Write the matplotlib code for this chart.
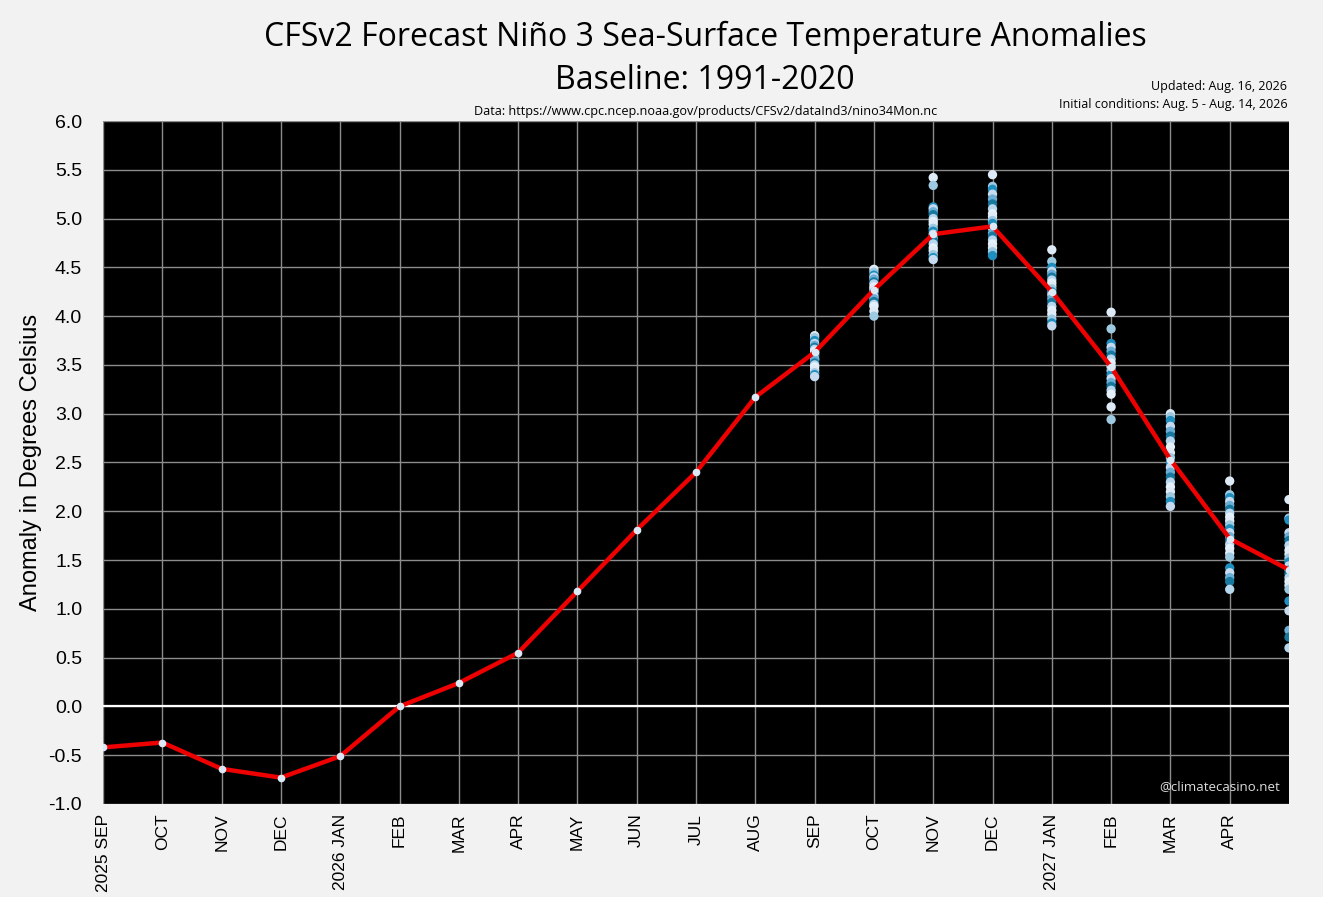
import matplotlib
matplotlib.use("Agg")
import matplotlib.pyplot as plt
import numpy as np

plt.rcParams['axes.unicode_minus'] = False

# months on the x axis (index 0 = 2025 SEP, index 20 = 2027 MAY)
month_labels = ["2025 SEP", "OCT", "NOV", "DEC", "2026 JAN", "FEB", "MAR", "APR",
                "MAY", "JUN", "JUL", "AUG", "SEP", "OCT", "NOV", "DEC",
                "2027 JAN", "FEB", "MAR", "APR"]

# observed + ensemble mean anomaly (deg C)
mean_anom = [-0.42, -0.37, -0.64, -0.73, -0.51, 0.00, 0.24, 0.55, 1.18, 1.81,
             2.40, 3.17, 3.63, 4.27, 4.84, 4.92, 4.25, 3.48, 2.53, 1.72, 1.40]

# ensemble members per forecast month (index -> values)
ens_sep26 = [3.80, 3.78, 3.75, 3.72, 3.70, 3.68, 3.66, 3.64, 3.62, 3.60,
             3.58, 3.56, 3.55, 3.52, 3.50, 3.48, 3.45, 3.42, 3.40, 3.38]
ens_oct26 = [4.48, 4.45, 4.42, 4.40, 4.38, 4.35, 4.33, 4.30, 4.28, 4.25,
             4.22, 4.20, 4.18, 4.15, 4.12, 4.10, 4.05, 4.00]
ens_nov26 = [5.42, 5.34, 5.12, 5.10, 5.07, 5.04, 5.00, 4.97, 4.94, 4.90,
             4.87, 4.84, 4.80, 4.77, 4.74, 4.70, 4.67, 4.63, 4.60, 4.58]
ens_dec26 = [5.45, 5.33, 5.30, 5.25, 5.20, 5.15, 5.10, 5.05, 5.02, 4.98,
             4.95, 4.90, 4.85, 4.82, 4.78, 4.74, 4.70, 4.66, 4.62]
ens_jan27 = [4.68, 4.56, 4.50, 4.46, 4.43, 4.40, 4.37, 4.34, 4.31, 4.28,
             4.25, 4.22, 4.18, 4.14, 4.10, 4.06, 4.02, 3.97, 3.93, 3.90]
ens_feb27 = [4.04, 3.87, 3.72, 3.68, 3.64, 3.60, 3.56, 3.52, 3.48, 3.44,
             3.40, 3.36, 3.32, 3.28, 3.24, 3.20, 3.07, 2.94]
ens_mar27 = [3.00, 2.97, 2.93, 2.87, 2.82, 2.77, 2.72, 2.66, 2.60, 2.55,
             2.50, 2.45, 2.40, 2.35, 2.30, 2.25, 2.20, 2.15, 2.10, 2.05]
ens_apr27 = [2.31, 2.17, 2.14, 2.10, 2.06, 2.02, 1.98, 1.94, 1.90, 1.86, 1.82, 1.78,
             1.74, 1.70, 1.66, 1.62, 1.57, 1.53, 1.42, 1.37, 1.32, 1.28, 1.20]
ens_may27 = [2.12, 1.93, 1.91, 1.78, 1.74, 1.70, 1.65, 1.60, 1.56, 1.52, 1.48, 1.44,
             1.40, 1.36, 1.32, 1.28, 1.24, 1.20, 1.08, 0.98, 0.78, 0.71, 0.60]

ensembles = {12: ens_sep26, 13: ens_oct26, 14: ens_nov26, 15: ens_dec26,
             16: ens_jan27, 17: ens_feb27, 18: ens_mar27, 19: ens_apr27, 20: ens_may27}

shades = ["#deebf7", "#9ecae1", "#1f8fc0", "#c6dbef", "#6baed6", "#17799f", "#b7d7ee",
          "#e4f0fa"]

fig = plt.figure(figsize=(13.23, 8.97), dpi=100, facecolor="#f2f2f2")
ax = fig.add_axes([0.0779, 0.1037, 0.8964, 0.7614])
ax.set_facecolor("black")
for s in ax.spines.values():
    s.set_visible(False)

ax.set_xlim(0, 20)
ax.set_ylim(-1, 6)
ax.set_xticks(range(len(month_labels)))
ax.set_xticklabels(month_labels, rotation=90, fontsize=12.5, family="Liberation Sans")
ax.set_yticks(np.arange(-1, 6.01, 0.5))
ax.set_yticklabels(["%.1f" % v for v in np.arange(-1, 6.01, 0.5)], fontsize=14,
                   family="Liberation Sans")
ax.tick_params(axis="y", length=0, pad=15)
ax.tick_params(axis="x", length=0, pad=7)
ax.grid(True, color="#8c8c8c", linewidth=1)
ax.set_axisbelow(True)
ax.axhline(0, color="white", linewidth=1.6, zorder=2)

# ensemble scatter
for xi, vals in ensembles.items():
    cols = [shades[k % len(shades)] for k in range(len(vals))]
    ax.scatter([xi] * len(vals), vals, s=45, c=cols, edgecolors="none", zorder=3,
               clip_on=True)

ax.plot(range(len(mean_anom)), mean_anom, color="#ee0000", linewidth=3.2, zorder=4,
        marker="o", markersize=5.5, markerfacecolor="#dbe9f6", markeredgecolor="none")

ax.set_ylabel("Anomaly in Degrees Celsius", fontsize=17, family="Liberation Sans",
              labelpad=5)

fig.text(0.533, 0.958, "CFSv2 Forecast Niño 3 Sea-Surface Temperature Anomalies",
         ha="center", va="center", fontsize=23, family="Open Sans")
fig.text(0.533, 0.910, "Baseline: 1991-2020", ha="center", va="center", fontsize=23,
         family="Open Sans")
fig.text(0.533, 0.876, "Data: https://www.cpc.ncep.noaa.gov/products/CFSv2/dataInd3/nino34Mon.nc",
         ha="center", va="center", fontsize=9.1, family="Open Sans")
fig.text(0.973, 0.904, "Updated: Aug. 16, 2026", ha="right", va="center", fontsize=9,
         family="Open Sans")
fig.text(0.973, 0.884, "Initial conditions: Aug. 5 - Aug. 14, 2026", ha="right",
         va="center", fontsize=9, family="Open Sans")
ax.text(0.992, 0.025, "@climatecasino.net", transform=ax.transAxes, ha="right",
        va="center", color="#dddddd", fontsize=9.5, family="Open Sans")

fig.savefig("out.png", dpi=100, facecolor=fig.get_facecolor())
